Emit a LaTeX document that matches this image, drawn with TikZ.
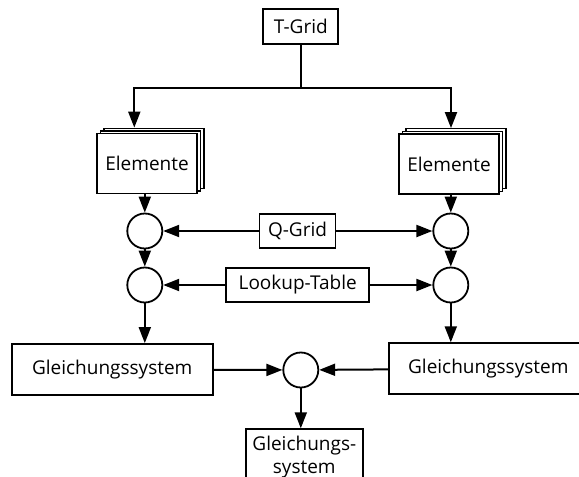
\documentclass[tikz,border=0pt]{standalone}
\usepackage{fontspec}
\setmainfont{Open Sans}
\usepackage{tikz}
\usetikzlibrary{arrows.meta,positioning,shadows,calc}

\begin{document}
\begin{tikzpicture}[x=1pt,y=-1pt,line width=2pt,
  every node/.style={font=\fontsize{19}{23}\selectfont},
  box/.style={draw,rectangle,line width=1.8pt,fill=white,inner sep=0pt},
  stack/.style={box,minimum width=100pt,minimum height=60pt,
    double copy shadow={shadow xshift=3.5pt,shadow yshift=2.6pt,draw=black,fill=white,line width=1.3pt}},
  junc/.style={draw,circle,line width=1.8pt,minimum size=35pt,inner sep=0pt},
  flow/.style={line width=2pt,-{Triangle[length=16pt,width=12pt]}}]

\useasboundingbox (0,0) rectangle (579,477);

%Top
\node[box,minimum width=75pt,minimum height=35pt] (tgrid) at (300.8,26.7) {T-Grid};
\coordinate (split) at (300.8,87.7);

% Element stacks
\node[stack] (elemL) at (147,163.5) {Elemente};
\node[stack] (elemR) at (449,164) {Elemente};

% Junctions
\node[junc] (c1L) at (144.8,231) {};
\node[junc] (c2L) at (144.8,285) {};
\node[junc] (c1R) at (450.8,231) {};
\node[junc] (c2R) at (450.8,285) {};
\node[junc] (cmid) at (300.8,370) {};

% Shared inputs
\node[box,minimum width=76pt,minimum height=34pt] (qgrid) at (297.5,231) {Q-Grid};
\node[box,minimum width=143pt,minimum height=34pt] (lookup) at (297.7,285) {Lookup-Table};

% Systems
\node[box,minimum width=201pt,minimum height=51pt] (gleichL) at (112.2,369.5) {Gleichungssystem};
\node[box,minimum width=198pt,minimum height=51pt] (gleichR) at (488.3,368.7) {Gleichungssystem};
\node[box,anchor=north,minimum width=116.7pt,align=center,inner ysep=7pt] (result) at (304.3,428.3) {Gleichungs-\\system};

% Connections
\draw (tgrid) -- (split);
\draw[flow] (split) -| ([xshift=-12.7pt,yshift=5pt]elemL.north);
\draw[flow] (split) -| ([xshift=2pt,yshift=5pt]elemR.north);

\draw[flow] (elemL.south -| c1L) -- (c1L);
\draw[flow] (elemR.south -| c1R) -- (c1R);

\draw[flow] (qgrid) -- (c1L);
\draw[flow] (qgrid) -- (c1R);
\draw[flow] (lookup) -- (c2L);
\draw[flow] (lookup) -- (c2R);

\draw[flow] (c1L) -- (c2L);
\draw[flow] (c1R) -- (c2R);
\draw[flow] (c2L) -- (c2L |- gleichL.north);
\draw[flow] (c2R) -- (c2R |- gleichR.north);

\draw[flow] (gleichL) -- (cmid);
\draw[flow] (gleichR) -- (cmid);
\draw[flow] (cmid) -- (cmid |- result.north);

\end{tikzpicture}
\end{document}
